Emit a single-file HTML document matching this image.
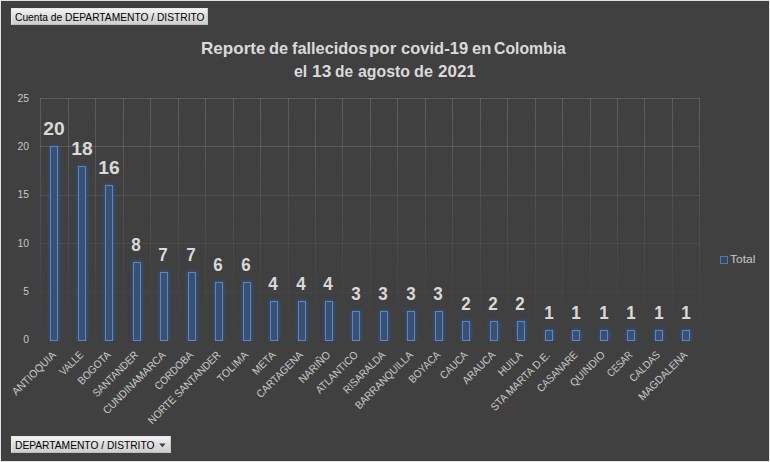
<!DOCTYPE html>
<html><head><meta charset="utf-8"><title>Reporte de fallecidos por covid-19 en Colombia</title>
<style>
html,body{margin:0;padding:0;}
body{width:770px;height:462px;overflow:hidden;background:#404040;font-family:"Liberation Sans",sans-serif;}
#chart{position:relative;width:770px;height:462px;background:#404040;overflow:hidden;box-sizing:border-box;}
#frame{position:absolute;left:0;top:0;width:768px;height:460px;border:1px solid #e4e4e4;pointer-events:none;}
.btn{position:absolute;height:17px;box-sizing:border-box;background:linear-gradient(#f2f2f2,#dcdcdc 55%,#cfcfcf);border:1px solid #e8e8e8;border-bottom-color:#bdbdbd;border-right-color:#c8c8c8;color:#000;font-size:11px;line-height:15px;white-space:nowrap;}
.btn span{position:absolute;left:3px;top:1px;display:inline-block;transform-origin:0 50%;transform:scaleX(0.93);}
.title{position:absolute;left:0;width:770px;text-align:center;color:#dadada;font-weight:bold;font-size:16.2px;line-height:23px;white-space:nowrap;}
.title .tw{position:absolute;top:0;display:block;transform-origin:0 50%;}
.yl{position:absolute;left:0;width:29px;text-align:right;transform-origin:100% 50%;transform:scaleX(0.94);color:#c6c6c6;font-size:11px;line-height:12px;height:12px;}
.bar{position:absolute;box-sizing:border-box;width:8px;background:#3a5072;border:1px solid #5a88c7;box-shadow:0 0 3.5px 1.5px rgba(44,94,172,0.62);}
.dl{position:absolute;width:40px;text-align:center;color:#d9d9d9;font-weight:bold;font-size:18px;line-height:18px;height:18px;}
.dl span{display:inline-block;transform:scaleX(0.945);}
.dl .w2{transform:scaleX(1.067);}
svg{position:absolute;left:0;top:0;}
#clip{position:absolute;left:0;top:0;width:770px;height:341px;overflow:hidden;}
.xl{font-family:"Liberation Sans",sans-serif;font-size:10.8px;fill:#c8c8c8;}
.lg{position:absolute;left:730px;top:253px;color:#c6c6c6;font-size:11px;line-height:13px;transform-origin:0 50%;transform:scaleX(1.09);}
.lgm{position:absolute;left:720px;top:256px;width:8px;height:8px;box-sizing:border-box;border:1px solid #4a7cbd;background:#3e4554;}
</style></head><body><div id="chart">

<svg width="770" height="462" viewBox="0 0 770 462">
<defs><linearGradient id="gv" gradientUnits="userSpaceOnUse" x1="0" y1="98.6" x2="0" y2="340.5"><stop offset="0" stop-color="#fff" stop-opacity="0.15"/><stop offset="0.2" stop-color="#fff" stop-opacity="0.125"/><stop offset="0.4" stop-color="#fff" stop-opacity="0.085"/><stop offset="0.6" stop-color="#fff" stop-opacity="0.058"/><stop offset="0.8" stop-color="#fff" stop-opacity="0.026"/><stop offset="1" stop-color="#fff" stop-opacity="0"/></linearGradient></defs>
<rect x="40" y="98" width="1" height="243" fill="url(#gv)"/>
<rect x="68" y="98" width="1" height="243" fill="url(#gv)"/>
<rect x="95" y="98" width="1" height="243" fill="url(#gv)"/>
<rect x="123" y="98" width="1" height="243" fill="url(#gv)"/>
<rect x="150" y="98" width="1" height="243" fill="url(#gv)"/>
<rect x="178" y="98" width="1" height="243" fill="url(#gv)"/>
<rect x="205" y="98" width="1" height="243" fill="url(#gv)"/>
<rect x="233" y="98" width="1" height="243" fill="url(#gv)"/>
<rect x="260" y="98" width="1" height="243" fill="url(#gv)"/>
<rect x="288" y="98" width="1" height="243" fill="url(#gv)"/>
<rect x="315" y="98" width="1" height="243" fill="url(#gv)"/>
<rect x="342" y="98" width="1" height="243" fill="url(#gv)"/>
<rect x="370" y="98" width="1" height="243" fill="url(#gv)"/>
<rect x="397" y="98" width="1" height="243" fill="url(#gv)"/>
<rect x="425" y="98" width="1" height="243" fill="url(#gv)"/>
<rect x="452" y="98" width="1" height="243" fill="url(#gv)"/>
<rect x="480" y="98" width="1" height="243" fill="url(#gv)"/>
<rect x="507" y="98" width="1" height="243" fill="url(#gv)"/>
<rect x="535" y="98" width="1" height="243" fill="url(#gv)"/>
<rect x="562" y="98" width="1" height="243" fill="url(#gv)"/>
<rect x="590" y="98" width="1" height="243" fill="url(#gv)"/>
<rect x="617" y="98" width="1" height="243" fill="url(#gv)"/>
<rect x="644" y="98" width="1" height="243" fill="url(#gv)"/>
<rect x="672" y="98" width="1" height="243" fill="url(#gv)"/>
<rect x="699" y="98" width="1" height="243" fill="url(#gv)"/>
<rect x="40" y="98" width="660" height="1" fill="#fff" fill-opacity="0.150"/>
<rect x="40" y="146" width="660" height="1" fill="#fff" fill-opacity="0.125"/>
<rect x="40" y="195" width="660" height="1" fill="#fff" fill-opacity="0.090"/>
<rect x="40" y="243" width="660" height="1" fill="#fff" fill-opacity="0.058"/>
<rect x="40" y="292" width="660" height="1" fill="#fff" fill-opacity="0.026"/>
<rect x="40" y="340" width="660" height="1" fill="#fff" fill-opacity="0.000"/>
<text class="xl" text-anchor="end" transform="translate(56.60,355.60) rotate(-45) scale(0.959,1)">ANTIOQUIA</text>
<text class="xl" text-anchor="end" transform="translate(84.06,355.60) rotate(-45) scale(0.879,1)">VALLE</text>
<text class="xl" text-anchor="end" transform="translate(111.52,355.60) rotate(-45) scale(0.921,1)">BOGOTA</text>
<text class="xl" text-anchor="end" transform="translate(138.97,355.60) rotate(-45) scale(0.904,1)">SANTANDER</text>
<text class="xl" text-anchor="end" transform="translate(166.43,355.60) rotate(-45) scale(0.948,1)">CUNDINAMARCA</text>
<text class="xl" text-anchor="end" transform="translate(193.89,355.60) rotate(-45) scale(0.905,1)">CORDOBA</text>
<text class="xl" text-anchor="end" transform="translate(221.35,355.60) rotate(-45) scale(0.918,1)">NORTE SANTANDER</text>
<text class="xl" text-anchor="end" transform="translate(248.81,355.60) rotate(-45) scale(0.967,1)">TOLIMA</text>
<text class="xl" text-anchor="end" transform="translate(276.27,355.60) rotate(-45) scale(0.959,1)">META</text>
<text class="xl" text-anchor="end" transform="translate(303.73,355.60) rotate(-45) scale(0.918,1)">CARTAGENA</text>
<text class="xl" text-anchor="end" transform="translate(331.18,355.60) rotate(-45) scale(0.946,1)">NARIÑO</text>
<text class="xl" text-anchor="end" transform="translate(358.64,355.60) rotate(-45) scale(0.915,1)">ATLANTICO</text>
<text class="xl" text-anchor="end" transform="translate(386.10,355.60) rotate(-45) scale(0.891,1)">RISARALDA</text>
<text class="xl" text-anchor="end" transform="translate(413.56,355.60) rotate(-45) scale(0.919,1)">BARRANQUILLA</text>
<text class="xl" text-anchor="end" transform="translate(441.02,355.60) rotate(-45) scale(0.898,1)">BOYACA</text>
<text class="xl" text-anchor="end" transform="translate(468.48,355.60) rotate(-45) scale(0.905,1)">CAUCA</text>
<text class="xl" text-anchor="end" transform="translate(495.93,355.60) rotate(-45) scale(0.916,1)">ARAUCA</text>
<text class="xl" text-anchor="end" transform="translate(523.39,355.60) rotate(-45) scale(0.944,1)">HUILA</text>
<text class="xl" text-anchor="end" transform="translate(550.85,355.60) rotate(-45) scale(0.955,1)">STA MARTA D.E.</text>
<text class="xl" text-anchor="end" transform="translate(578.31,355.60) rotate(-45) scale(0.885,1)">CASANARE</text>
<text class="xl" text-anchor="end" transform="translate(605.77,355.60) rotate(-45) scale(0.967,1)">QUINDIO</text>
<text class="xl" text-anchor="end" transform="translate(633.23,355.60) rotate(-45) scale(0.835,1)">CESAR</text>
<text class="xl" text-anchor="end" transform="translate(660.68,355.60) rotate(-45) scale(0.880,1)">CALDAS</text>
<text class="xl" text-anchor="end" transform="translate(688.14,355.60) rotate(-45) scale(0.949,1)">MAGDALENA</text>
</svg>
<div class="yl" style="top:92px">25</div>
<div class="yl" style="top:140px">20</div>
<div class="yl" style="top:188px">15</div>
<div class="yl" style="top:237px">10</div>
<div class="yl" style="top:285px">5</div>
<div class="yl" style="top:333px">0</div>
<div id="clip">
<div class="bar" style="left:50px;top:146px;height:195px"></div>
<div class="bar" style="left:78px;top:166px;height:175px"></div>
<div class="bar" style="left:105px;top:185px;height:156px"></div>
<div class="bar" style="left:133px;top:262px;height:79px"></div>
<div class="bar" style="left:160px;top:272px;height:69px"></div>
<div class="bar" style="left:188px;top:272px;height:69px"></div>
<div class="bar" style="left:215px;top:282px;height:59px"></div>
<div class="bar" style="left:243px;top:282px;height:59px"></div>
<div class="bar" style="left:270px;top:301px;height:40px"></div>
<div class="bar" style="left:298px;top:301px;height:40px"></div>
<div class="bar" style="left:325px;top:301px;height:40px"></div>
<div class="bar" style="left:352px;top:311px;height:30px"></div>
<div class="bar" style="left:380px;top:311px;height:30px"></div>
<div class="bar" style="left:407px;top:311px;height:30px"></div>
<div class="bar" style="left:435px;top:311px;height:30px"></div>
<div class="bar" style="left:462px;top:321px;height:20px"></div>
<div class="bar" style="left:490px;top:321px;height:20px"></div>
<div class="bar" style="left:517px;top:321px;height:20px"></div>
<div class="bar" style="left:545px;top:330px;height:11px"></div>
<div class="bar" style="left:572px;top:330px;height:11px"></div>
<div class="bar" style="left:600px;top:330px;height:11px"></div>
<div class="bar" style="left:627px;top:330px;height:11px"></div>
<div class="bar" style="left:655px;top:330px;height:11px"></div>
<div class="bar" style="left:682px;top:330px;height:11px"></div>
</div>
<div class="dl" style="left:34.2px;top:120px"><span class="w2">20</span></div>
<div class="dl" style="left:61.7px;top:140px"><span class="w2">18</span></div>
<div class="dl" style="left:89.1px;top:159px"><span class="w2">16</span></div>
<div class="dl" style="left:116.1px;top:236px"><span>8</span></div>
<div class="dl" style="left:143.5px;top:246px"><span>7</span></div>
<div class="dl" style="left:171.0px;top:246px"><span>7</span></div>
<div class="dl" style="left:198.4px;top:256px"><span>6</span></div>
<div class="dl" style="left:225.9px;top:256px"><span>6</span></div>
<div class="dl" style="left:253.4px;top:275px"><span>4</span></div>
<div class="dl" style="left:280.8px;top:275px"><span>4</span></div>
<div class="dl" style="left:308.3px;top:275px"><span>4</span></div>
<div class="dl" style="left:335.7px;top:285px"><span>3</span></div>
<div class="dl" style="left:363.2px;top:285px"><span>3</span></div>
<div class="dl" style="left:390.7px;top:285px"><span>3</span></div>
<div class="dl" style="left:418.1px;top:285px"><span>3</span></div>
<div class="dl" style="left:445.6px;top:295px"><span>2</span></div>
<div class="dl" style="left:473.0px;top:295px"><span>2</span></div>
<div class="dl" style="left:500.5px;top:295px"><span>2</span></div>
<div class="dl" style="left:529.0px;top:304px"><span>1</span></div>
<div class="dl" style="left:556.4px;top:304px"><span>1</span></div>
<div class="dl" style="left:583.9px;top:304px"><span>1</span></div>
<div class="dl" style="left:611.3px;top:304px"><span>1</span></div>
<div class="dl" style="left:638.8px;top:304px"><span>1</span></div>
<div class="dl" style="left:666.2px;top:304px"><span>1</span></div>
<div class="title" style="top:37px">
<span class="tw" style="left:200.85px;transform:scaleX(1.0539)">Reporte</span> 
<span class="tw" style="left:269.30px;transform:scaleX(1.0059)">de</span> 
<span class="tw" style="left:292.10px;transform:scaleX(1.0085)">fallecidos</span> 
<span class="tw" style="left:368.85px;transform:scaleX(1.0475)">por</span> 
<span class="tw" style="left:400.50px;transform:scaleX(1.0217)">covid-19</span> 
<span class="tw" style="left:472.00px;transform:scaleX(1.0221)">en</span> 
<span class="tw" style="left:494.30px;transform:scaleX(0.9740)">Colombia</span> 
</div>
<div class="title" style="top:60px">
<span class="tw" style="left:294.30px;transform:scaleX(0.9844)">el</span> 
<span class="tw" style="left:311.53px;transform:scaleX(1.0704)">13</span> 
<span class="tw" style="left:335.30px;transform:scaleX(0.9530)">de</span> 
<span class="tw" style="left:358.10px;transform:scaleX(0.9798)">agosto</span> 
<span class="tw" style="left:414.30px;transform:scaleX(1.0006)">de</span> 
<span class="tw" style="left:437.60px;transform:scaleX(1.0498)">2021</span> 
</div>
<div class="btn" style="left:11px;top:8px;width:197px"><span id="b1">Cuenta de DEPARTAMENTO / DISTRITO</span></div>
<div class="btn" style="left:11px;top:436px;width:160px"><span id="b2">DEPARTAMENTO / DISTRITO</span><svg width="8" height="5" style="left:147px;top:6px" viewBox="0 0 8 5"><path d="M0.2 0.5h6.4l-3.2 3.8z" fill="#404040"/></svg></div>
<div class="lgm"></div><div class="lg">Total</div>
<div id="frame"></div>
</div></body></html>
